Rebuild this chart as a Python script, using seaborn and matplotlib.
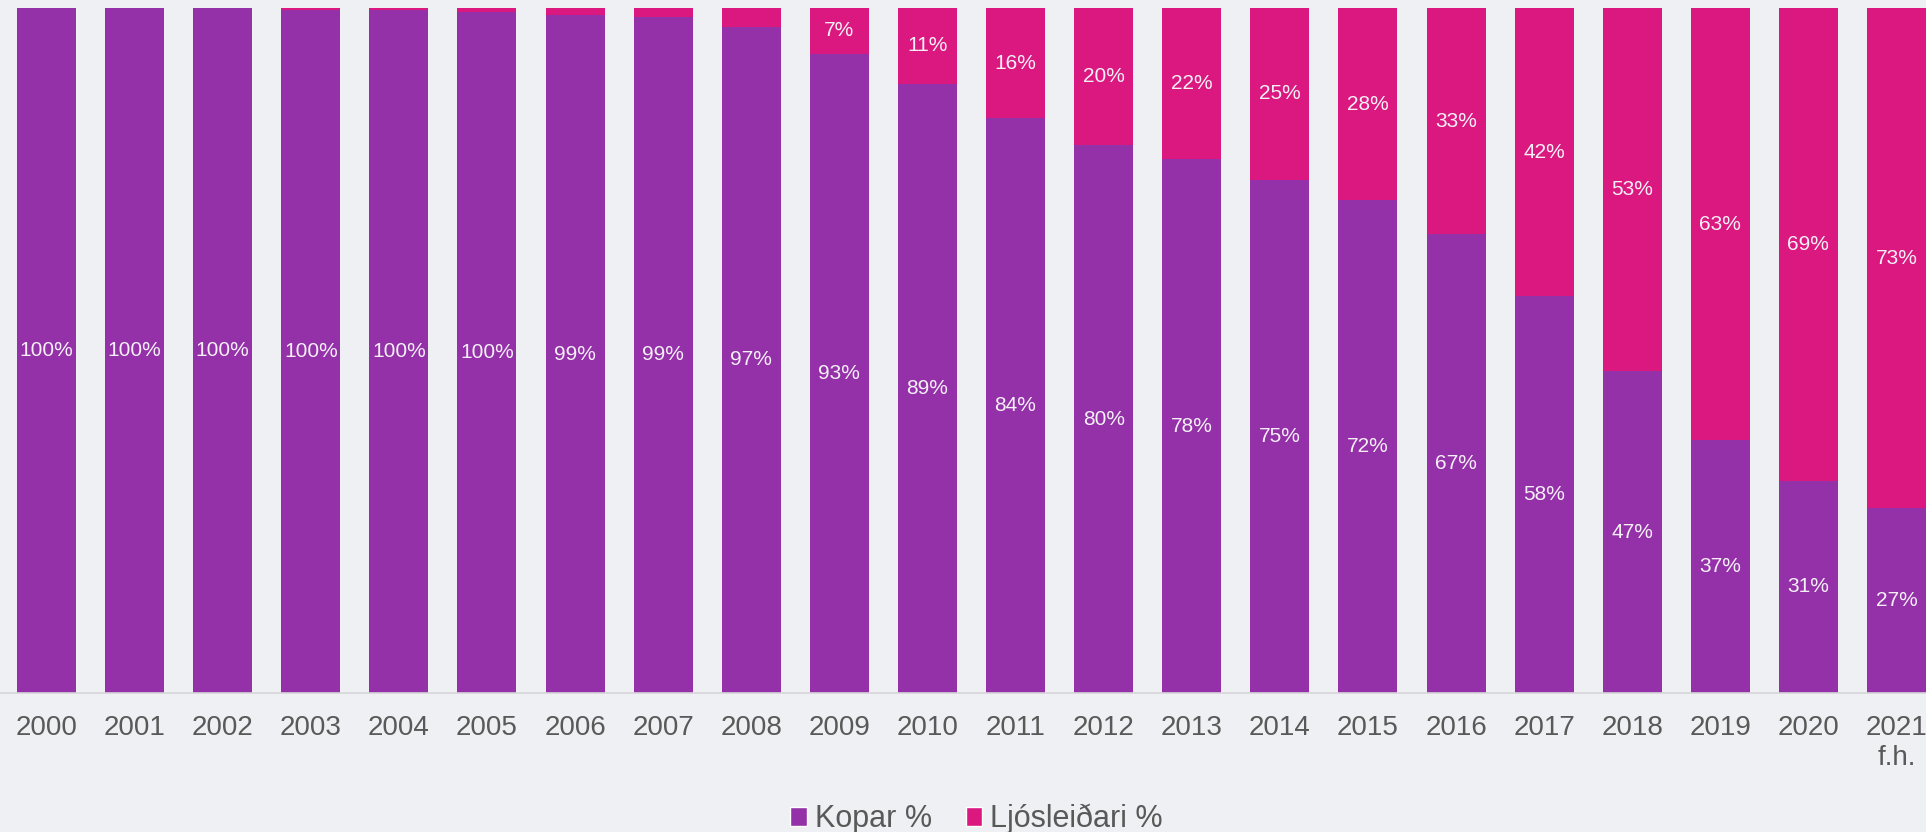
import pandas as pd
import seaborn as sns
import matplotlib.pyplot as plt
from matplotlib.patches import Patch

sns.set_theme(style="white")
plt.rcParams["font.family"] = ["Liberation Sans", "DejaVu Sans"]

# Data (share of connections, %)
years = ["2000", "2001", "2002", "2003", "2004", "2005", "2006", "2007", "2008",
         "2009", "2010", "2011", "2012", "2013", "2014", "2015", "2016", "2017",
         "2018", "2019", "2020", "2021\nf.h."]
kopar = [100.0, 100.0, 100.0, 99.8, 99.7, 99.5, 99.0, 98.8, 97.3,
         93.4, 89.0, 84.0, 80.0, 78.0, 75.0, 72.0, 67.0, 58.0,
         47.0, 37.0, 31.0, 27.0]
ljos = [0.0, 0.0, 0.0, 0.2, 0.3, 0.5, 1.0, 1.2, 2.7,
        6.6, 11.0, 16.0, 20.0, 22.0, 25.0, 28.0, 33.0, 42.0,
        53.0, 63.0, 69.0, 73.0]

PURPLE = "#9430A8"
PINK = "#DA187F"
BG = "#EFF0F3"
TXT = "#595959"
LBL = "#F4F0F6"

df = pd.DataFrame({"Ár": years, "Kopar %": kopar, "Ljósleiðari %": ljos})
df["Samtals"] = df["Kopar %"] + df["Ljósleiðari %"]

fig = plt.figure(figsize=(19.26, 8.32), dpi=100, facecolor=BG)
ax = fig.add_axes([0, 0.167, 1, 0.823])
ax.set_facecolor(BG)

# stacked bars: pink total behind, purple copper share in front
sns.barplot(data=df, x="Ár", y="Samtals", color=PINK, saturation=1,
            width=0.67, linewidth=0, ax=ax)
sns.barplot(data=df, x="Ár", y="Kopar %", color=PURPLE, saturation=1,
            width=0.67, linewidth=0, ax=ax)

purple_bars = ax.containers[1]

# value labels
for p, k, l in zip(purple_bars, kopar, ljos):
    cx = p.get_x() + p.get_width() / 2
    ax.text(cx, k / 2, f"{k:.0f}%", ha="center", va="center",
            fontsize=15, color=LBL)
    if l >= 5:
        ax.text(cx, k + l / 2, f"{l:.0f}%", ha="center", va="center",
                fontsize=15, color=LBL)

ax.set_xlim(-0.528, 21.335)
ax.set_ylim(0, 100)
ax.set_xlabel("")
ax.set_ylabel("")
ax.set_yticks([])
for s in ["top", "left", "right"]:
    ax.spines[s].set_visible(False)
ax.spines["bottom"].set_color("#D6D6D9")
ax.spines["bottom"].set_linewidth(1.2)
ax.tick_params(axis="x", length=0, pad=16, labelsize=20, labelcolor=TXT)

handles = [Patch(facecolor=PURPLE, label="Kopar %"),
           Patch(facecolor=PINK, label="Ljósleiðari %")]
fig.legend(handles=handles, loc="lower center", bbox_to_anchor=(0.507, -0.036),
           ncol=2, frameon=False, fontsize=22, handlelength=0.55,
           handleheight=0.55, handletextpad=0.25, columnspacing=1.1,
           labelcolor=TXT)

fig.savefig("out.png", dpi=100, facecolor=BG)
